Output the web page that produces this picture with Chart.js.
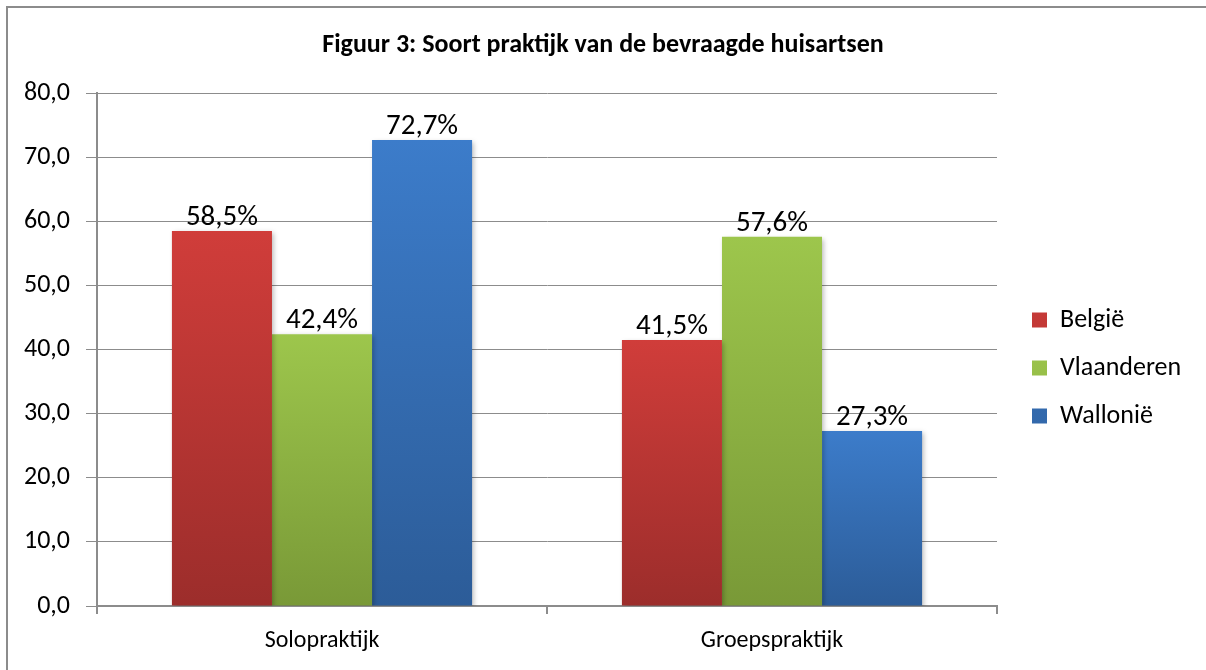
<!DOCTYPE html>
<html>
<head>
<meta charset="utf-8">
<script src="https://cdn.jsdelivr.net/npm/chart.js@4.4.1/dist/chart.umd.min.js"></script>
<style>
  html, body { margin: 0; padding: 0; background: #fff; overflow: hidden; }
  #wrap { position: relative; width: 1206px; height: 670px; }
  #frame { position: absolute; left: 6px; top: 6px; width: 1300px; height: 800px; border: 2px solid #8c8c8c; box-sizing: border-box; }
  #chart { position: absolute; left: 0; top: 0; }
</style>
</head>
<body>
<div id="wrap">
  <div id="frame"></div>
  <canvas id="chart" width="1206" height="670"></canvas>
</div>
<script>
const categories = ["Solopraktijk", "Groepspraktijk"];
const seriesNames = ["België", "Vlaanderen", "Wallonië"];
const belgie = [58.5, 41.5];
const vlaanderen = [42.4, 57.6];
const wallonie = [72.7, 27.3];
const yTicks = [0, 10, 20, 30, 40, 50, 60, 70, 80];

const palette = [
  { top: "#d03d3a", bottom: "#9c2d2b" },
  { top: "#9dc64c", bottom: "#799937" },
  { top: "#3c7cca", bottom: "#2c5c98" }
];

const FONT = "Carlito, Lato, 'Open Sans', sans-serif";
Chart.defaults.font.family = FONT;
Chart.defaults.color = "#000";

function barGradient(idx) {
  return function (context) {
    const chart = context.chart;
    if (!chart.chartArea || context.type !== "data") return palette[idx].top;
    const y = chart.scales.y;
    const top = y.getPixelForValue(context.parsed.y);
    const bottom = y.getPixelForValue(0);
    const g = chart.ctx.createLinearGradient(0, top, 0, bottom);
    g.addColorStop(0, palette[idx].top);
    g.addColorStop(1, palette[idx].bottom);
    return g;
  };
}

const barShadow = {
  id: "barShadow",
  beforeDatasetsDraw(chart) {
    const ctx = chart.ctx;
    ctx.save();
    ctx.shadowColor = "rgba(0,0,0,0.28)";
    ctx.shadowBlur = 5;
    ctx.shadowOffsetX = 2;
    ctx.shadowOffsetY = 2;
  },
  afterDatasetsDraw(chart) {
    chart.ctx.restore();
  }
};

const valueLabels = {
  id: "valueLabels",
  afterDatasetsDraw(chart) {
    const ctx = chart.ctx;
    ctx.save();
    ctx.font = "29px " + FONT;
    ctx.fillStyle = "#000";
    ctx.textAlign = "center";
    ctx.textBaseline = "alphabetic";
    chart.data.datasets.forEach((ds, i) => {
      chart.getDatasetMeta(i).data.forEach((bar, j) => {
        const txt = ds.data[j].toFixed(1).replace(".", ",") + "%";
        ctx.fillText(txt, bar.x, bar.y - 6);
      });
    });
    ctx.restore();
  }
};

// put legend and title where the original has them
const placeBoxes = {
  id: "placeBoxes",
  afterLayout(chart) {
    const lg = chart.legend;
    lg.left = 1010;
    lg.right = 1206;
    lg.width = 196;
    lg.top = 136;
    lg.bottom = 600;
    lg.height = 464;
    const t = chart.titleBlock;
    t.left = 0;
    t.right = 1206;
    t.width = 1206;
  }
};

new Chart(document.getElementById("chart"), {
  type: "bar",
  data: {
    labels: categories,
    datasets: [
      { label: seriesNames[0], data: belgie, backgroundColor: barGradient(0) },
      { label: seriesNames[1], data: vlaanderen, backgroundColor: barGradient(1) },
      { label: seriesNames[2], data: wallonie, backgroundColor: barGradient(2) }
    ]
  },
  options: {
    responsive: false,
    animation: false,
    layout: { padding: { left: 0, right: 49, top: 0, bottom: 0 } },
    datasets: {
      bar: { categoryPercentage: 0.667, barPercentage: 1.0 }
    },
    scales: {
      x: {
        grid: {
          offset: true,
          drawOnChartArea: false,
          drawTicks: true,
          tickLength: 8,
          color: "#8c8c8c",
          lineWidth: 2
        },
        border: { display: true, color: "#8c8c8c", width: 2 },
        ticks: { font: { size: 24 }, padding: 13, color: "#000" },
        afterFit(scale) { scale.height = 64; }
      },
      y: {
        min: 0,
        max: 80,
        afterBuildTicks(scale) {
          scale.ticks = yTicks.map(v => ({ value: v }));
        },
        grid: { color: "#8c8c8c", lineWidth: 1, tickLength: 11 },
        border: { display: true, color: "#8c8c8c", width: 2 },
        ticks: {
          font: { size: 26 },
          padding: 16,
          color: "#000",
          callback: v => v.toFixed(1).replace(".", ",")
        },
        afterFit(scale) { scale.width = 97; }
      }
    },
    plugins: {
      title: {
        display: true,
        text: "Figuur 3: Soort praktijk van de bevraagde huisartsen",
        font: { size: 26, weight: "bold" },
        color: "#000",
        padding: { top: 30, bottom: 32 }
      },
      legend: {
        position: "right",
        maxWidth: 160,
        labels: {
          boxWidth: 15,
          boxHeight: 15,
          padding: 22,
          font: { size: 26 },
          color: "#000"
        }
      },
      tooltip: { enabled: false }
    }
  },
  plugins: [barShadow, valueLabels, placeBoxes]
});
</script>
</body>
</html>
